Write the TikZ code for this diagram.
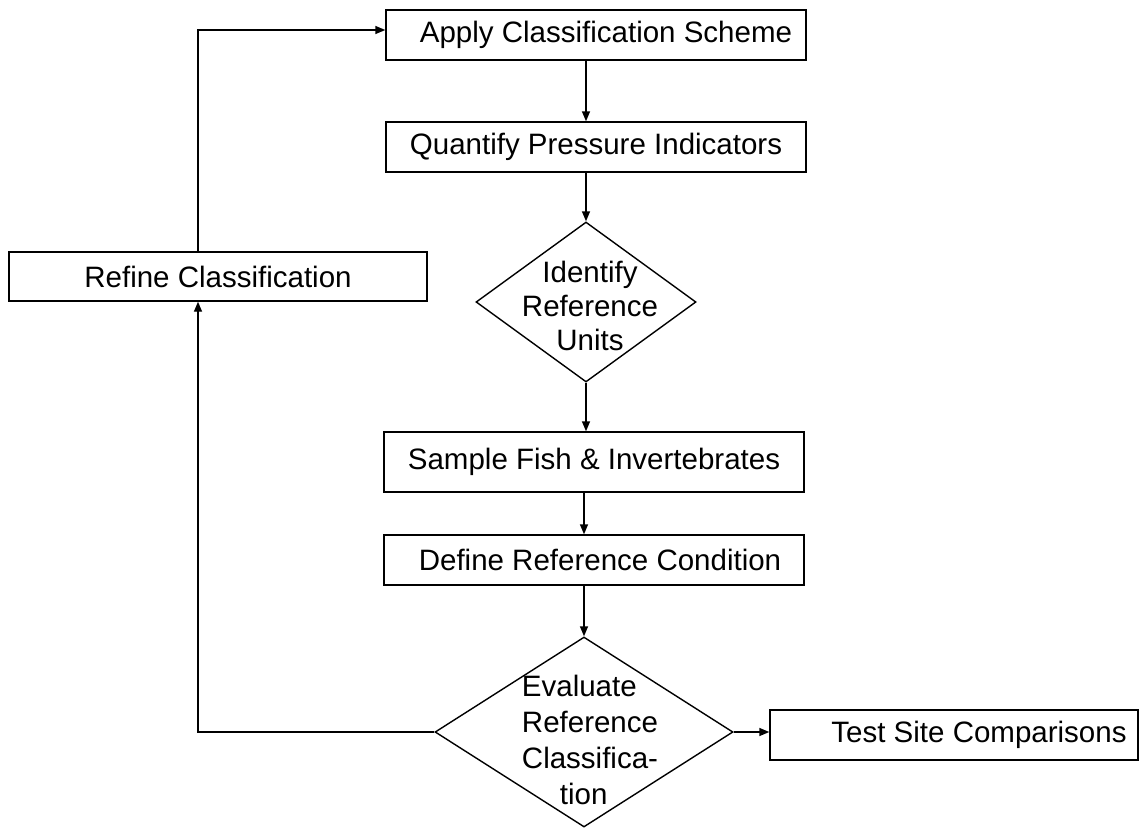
\documentclass[tikz,border=0pt]{standalone}
\usepackage{fontspec}
\setmainfont{Liberation Sans}
\usetikzlibrary{shapes.geometric,arrows.meta}
\tikzset{
  flowbox/.style={draw, line width=1.4pt, rectangle, inner sep=0pt, minimum width=420pt, minimum height=50pt, font=\fontsize{29.5}{34}\selectfont},
  decide/.style={draw, line width=1.4pt, diamond, inner sep=0pt},
  dtext/.style={font=\fontsize{29.5}{34}\selectfont, inner sep=0pt},
  conn/.style={line width=1.4pt},
  arr/.style={conn, -{Triangle[length=10pt,width=8pt]}}
}
\begin{document}
\begin{tikzpicture}[x=1pt,y=-1pt]
\useasboundingbox[fill=white] (0,0) rectangle (1140,827);
% nodes
\node[flowbox] (apply) at (596,35) {\hspace*{20pt}Apply Classification Scheme};
\node[flowbox] (quantify) at (596,147) {Quantify Pressure Indicators};
\node[decide, minimum width=220pt, minimum height=160pt] (ident) at (586,302) {};
\node[dtext, align=center] (identtext) at (590,306) {Identify\\Reference\\Units};
\node[flowbox, minimum height=60pt] (sample) at (594,462) {Sample Fish \& Invertebrates};
\node[flowbox] (define) at (594,560) {\hspace*{12pt}Define Reference Condition};
\node[decide, minimum width=298pt, minimum height=190pt] (evaluate) at (584,732) {};
\node[dtext, align=left, font=\fontsize{29.5}{36}\selectfont] (evaltext) at (590,740) {Evaluate\\Reference\\Classifica-\\\hspace*{38pt}tion};
\node[flowbox, minimum width=368pt] (test) at (954,735) {\hspace*{50pt}Test Site Comparisons};
\node[flowbox, minimum width=418pt, minimum height=49pt] (refine) at (218,276.5) {Refine Classification};
\coordinate (loopx) at (198,0);
% connectors
\draw[arr] (apply.south -| ident.north) -- (quantify.north -| ident.north);
\draw[arr] (quantify.south -| ident.north) -- (ident.north);
\draw[arr] (ident.south) -- (sample.north -| ident.south);
\draw[arr] (sample.south -| evaluate.north) -- (define.north -| evaluate.north);
\draw[arr] (define.south -| evaluate.north) -- (evaluate.north);
\draw[arr] (evaluate.east) -- (test.west |- evaluate.east);
\draw[arr] (evaluate.west) -| (loopx |- refine.south);
\draw[arr] (loopx |- refine.north) |- ([yshift=5pt]apply.west);
\end{tikzpicture}
\end{document}
